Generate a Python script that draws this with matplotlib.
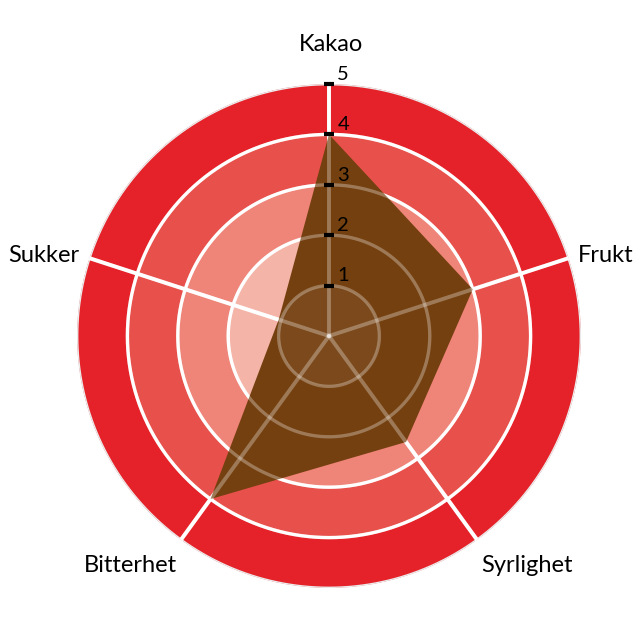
import numpy as np
import matplotlib
matplotlib.use("Agg")
import matplotlib.pyplot as plt

categories = ["Kakao", "Frukt", "Syrlighet", "Bitterhet", "Sukker"]
values = [4, 3, 2.6, 4, 1.05]
ring_levels = [0, 2, 3, 4, 5]
ring_colors = ["#f4b4a8", "#ef8479", "#e8504c", "#e52229"]
tick_values = [1, 2, 3, 4, 5]
tick_labels = ["1", "2", "3", "4", "5"]
grid_levels = [1, 2, 3, 4]

plt.rcParams['font.family'] = ['Lato', 'DejaVu Sans']

fig = plt.figure(figsize=(6.4, 6.39), dpi=100)
ax = fig.add_axes([77/640, 51/639, 504/640, 504/639], projection='polar')
ax.set_theta_zero_location('N')
ax.set_theta_direction(-1)
ax.set_ylim(0, 5)
ax.set_xticks([])
ax.set_yticks([])
ax.grid(False)
ax.spines['polar'].set_visible(False)
ax.patch.set_alpha(0)

n = len(categories)
angles = np.arange(n) * 2 * np.pi / n
full = np.linspace(0, 2 * np.pi, 721)

# background rings
for lo, hi, c in zip(ring_levels[:-1], ring_levels[1:], ring_colors):
    ax.bar(0, hi - lo, width=2 * np.pi, bottom=lo, color=c, edgecolor='none',
           align='center', zorder=0)

# outer faint edge
ax.plot(full, np.full_like(full, 5), color='#ececec', lw=2, zorder=1)

# white gridlines (under the fill)
for g in grid_levels:
    ax.plot(full, np.full_like(full, g), color='white', lw=2.4, zorder=1)
for a in angles:
    ax.plot([a, a], [0, 5], color='white', lw=2.8, zorder=1)

# data fill
ax.fill(np.append(angles, angles[0]), values + [values[0]], color='#74400f',
        edgecolor='none', zorder=2)

# translucent gridlines on top
for g in grid_levels:
    ax.plot(full, np.full_like(full, g), color='white', lw=2.4, alpha=0.3, zorder=3)
for a in angles:
    ax.plot([a, a], [0, 5], color='white', lw=2.8, alpha=0.3, zorder=3)
ax.bar(0, 1, width=2 * np.pi, bottom=0, color='white', alpha=0.05,
       edgecolor='none', zorder=3)

# ticks on Kakao axis
ax.plot(np.zeros(len(tick_values)), tick_values, ls='none', marker='_',
        markersize=7, mew=3, color='black', zorder=5, clip_on=False)
for v, lab in zip(tick_values, tick_labels):
    ax.annotate(lab, xy=(0, v), xytext=(6, 3), textcoords='offset points',
                ha='left', va='baseline', fontsize=14.5,
                color='black', annotation_clip=False, zorder=6)

# category labels
label_pos = [(5.58, 'center', 'bottom', 1.5, 0), (5.2, 'left', 'center', 0, 0),
             (5.38, 'left', 'top', -5.5, 0), (5.38, 'right', 'top', 5, 0),
             (5.2, 'right', 'center', 0, 0)]
for a, cat, (r, ha, va, dx, dy) in zip(angles, categories, label_pos):
    ax.annotate(cat, xy=(a, r), xytext=(dx, dy), textcoords='offset points',
                ha=ha, va=va, fontsize=17, color='black',
                annotation_clip=False)

fig.savefig('out.png', dpi=100)
